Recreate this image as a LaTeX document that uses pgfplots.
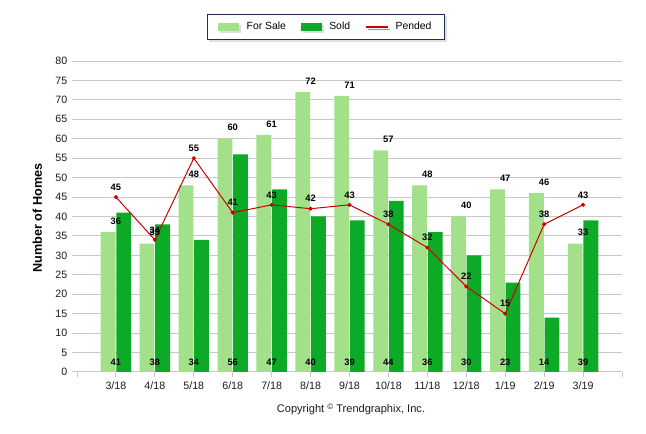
\documentclass[border=0pt]{standalone}
\usepackage{fontspec}
\setmainfont{Liberation Sans}
\usepackage{pgfplots}
\pgfplotsset{compat=1.18}
\usetikzlibrary{shadows}

\definecolor{forsale}{HTML}{A3E08A}
\definecolor{sold}{HTML}{0DAA27}
\definecolor{pended}{HTML}{CC0000}
\definecolor{gridgray}{HTML}{C8C8C8}
\definecolor{legendframe}{HTML}{1F2F50}
\definecolor{ticktext}{HTML}{1A1A28}

\tikzset{datalabel/.style={anchor=center, font=\bfseries\fontsize{7}{8}\selectfont, text=black}}

\begin{document}
\begin{tikzpicture}
\path[use as bounding box] (0,0) rectangle (484.5pt,325.5pt);
\begin{axis}[
  at={(57.75pt,46.5pt)}, anchor=south west,
  scale only axis, width=408.75pt, height=233.25pt,
  xmin=-1, xmax=13, ymin=0, ymax=80,
  ytick={0,5,...,80},
  xtick={-1,0,...,13},
  xticklabels={,3/18,4/18,5/18,6/18,7/18,8/18,9/18,10/18,11/18,12/18,1/19,2/19,3/19,},
  axis x line=bottom, axis y line=left,
  axis line style={gridgray, line width=0.75pt, -},
  y axis line style={draw=none},
  ymajorgrids, grid style={gridgray, line width=0.75pt},
  tick align=outside, major tick length=3.75pt,
  tick style={gridgray, line width=0.75pt},
  ticklabel style={font=\fontsize{8}{10}\selectfont, text=ticktext},
  /pgf/number format/assume math mode=true,
  clip=false,
  legend style={at={(0.457,1.109)}, anchor=center, legend columns=3,
    draw=legendframe, line width=0.75pt, fill=white,
    drop shadow={shadow xshift=1.5pt, shadow yshift=-1.5pt, fill=gray!50},
    font=\fontsize{7.8}{9}\selectfont, inner xsep=8pt, inner ysep=4pt,
    /tikz/every even column/.append style={column sep=9pt}},
  legend cell align=left,
]
\addplot[ybar, bar width=0.38, bar shift=-0.2, fill=forsale, draw=none,
  legend image code/.code={\fill[forsale] (0pt,-3pt) rectangle (15.75pt,3pt); \path (19.5pt,0pt);},
  nodes near coords, nodes near coords style={datalabel, yshift=8.25pt}]
  coordinates {(0,36) (1,33) (2,48) (3,60) (4,61) (5,72) (6,71) (7,57) (8,48) (9,40) (10,47) (11,46) (12,33)};
\addlegendentry{For Sale}
\addplot[ybar, bar width=0.38, bar shift=0.2, fill=sold, draw=none,
  legend image code/.code={\fill[sold] (0pt,-3pt) rectangle (15.75pt,3pt); \path (19.5pt,0pt);}]
  coordinates {(0,41) (1,38) (2,34) (3,56) (4,47) (5,40) (6,39) (7,44) (8,36) (9,30) (10,23) (11,14) (12,39)};
\addlegendentry{Sold}
\addplot[pended, line width=0.75pt, mark=*, mark size=1.1pt,
  legend image code/.code={\draw[pended, line width=1.5pt] (0pt,0pt) -- (16.5pt,0pt); \path (20pt,0pt);},
  nodes near coords, nodes near coords style={datalabel, yshift=7.5pt}]
  coordinates {(0,45) (1,34) (2,55) (3,41) (4,43) (5,42) (6,43) (7,38) (8,32) (9,22) (10,15) (11,38) (12,43)};
\addlegendentry{Pended}
% Sold values written at the foot of each category
\addplot[draw=none, mark=none, forget plot, point meta=explicit,
  nodes near coords, nodes near coords style={datalabel, yshift=7.5pt}]
  coordinates {(0,0) [41] (1,0) [38] (2,0) [34] (3,0) [56] (4,0) [47] (5,0) [40] (6,0) [39]
               (7,0) [44] (8,0) [36] (9,0) [30] (10,0) [23] (11,0) [14] (12,0) [39]};
\end{axis}
\node[rotate=90, font=\bfseries\fontsize{9.5}{11}\selectfont] at (28pt,162pt) {Number of Homes};
\node[font=\fontsize{8.3}{10}\selectfont, text=ticktext] at (263.25pt,18.75pt)
  {Copyright {\fontsize{6}{7}\selectfont\raisebox{2.2pt}{©}} Trendgraphix, Inc.};
\end{tikzpicture}
\end{document}
